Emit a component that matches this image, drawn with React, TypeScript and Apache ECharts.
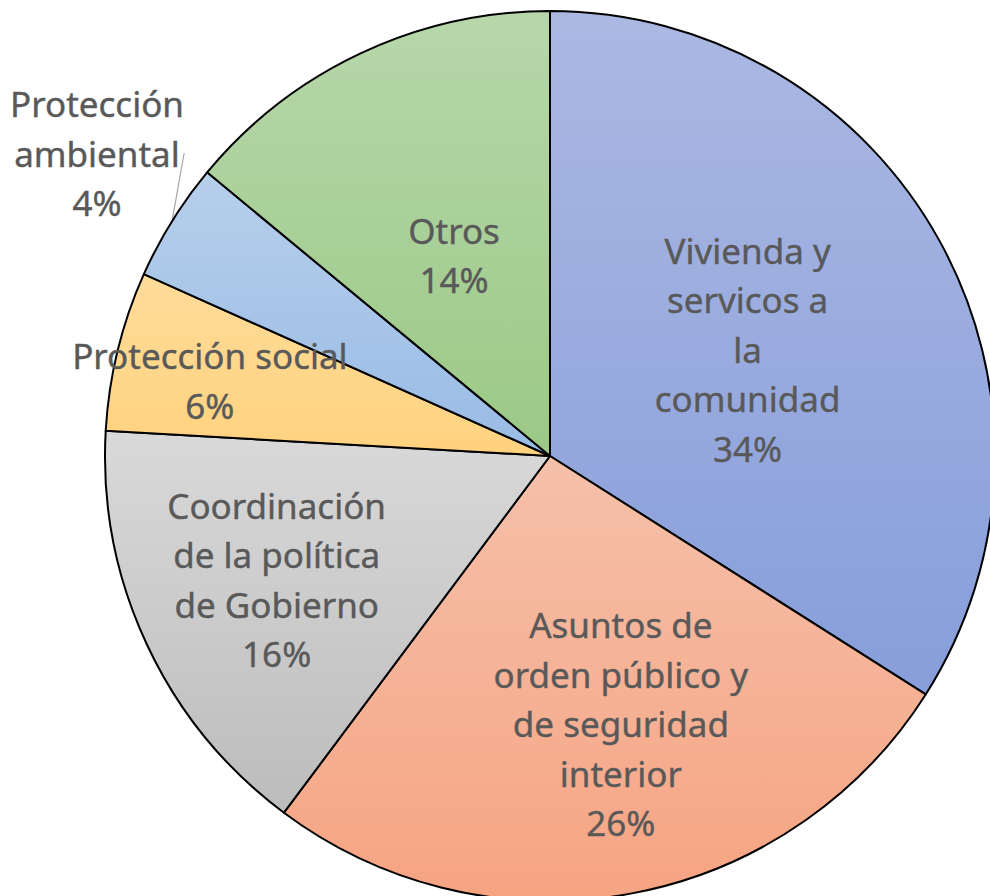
import React, { useEffect, useRef } from "react";
import * as echarts from "echarts";

const categories = [
  "Vivienda y\nservicos a\nla\ncomunidad",
  "Asuntos de\norden público y\nde seguridad\ninterior",
  "Coordinación\nde la política\nde Gobierno",
  "Protección social",
  "Protección\nambiental",
  "Otros",
];
const values = [34.0, 26.2, 15.7, 5.8, 4.3, 14.0];
const colorTop = ["#abb8e2", "#f5c0aa", "#d9d9d9", "#ffdc9a", "#b7cfeb", "#b7d7aa"];
const colorBottom = ["#879edb", "#f6a482", "#bcbcbc", "#ffd27e", "#98bbe5", "#9bc986"];
// label offsets from default inside position (dx, dy)
const labelShift: [number, number][] = [
  [0, 2],
  [30, 46],
  [-69, 28],
  [-121, -22],
  [0, 0],
  [0, 3],
];

export default function App() {
  const ref = useRef<HTMLDivElement>(null);
  useEffect(() => {
    document.body.style.margin = "0";
    const chart = echarts.init(ref.current!, null, { renderer: "svg" });
    const data = values.map((v, i) => {
      const item: any = {
        name: categories[i],
        value: v,
        itemStyle: {
          color: new echarts.graphic.LinearGradient(0, 0, 0, 1, [
            { offset: 0, color: colorTop[i] },
            { offset: 1, color: colorBottom[i] },
          ]),
        },
      };
      if (i === 4) {
        item.label = { position: "outside" };
        item.labelLine = {
          show: true,
          length: 40,
          length2: 0,
          lineStyle: { color: "#a6a6a6", width: 1.2 },
        };
      }
      return item;
    });
    chart.setOption({
      animation: false,
      backgroundColor: "#ffffff",
      series: [
        {
          type: "pie",
          center: [550, 456],
          radius: [0, 445],
          startAngle: 90,
          clockwise: true,
          percentPrecision: 0,
          avoidLabelOverlap: false,
          data,
          itemStyle: { borderColor: "#000000", borderWidth: 2 },
          label: {
            show: true,
            position: "inside",
            formatter: "{b}\n{d}%",
            fontFamily: "Noto Sans",
            fontSize: 35,
            lineHeight: 49.5,
            color: "#595959",
            align: "center",
            textBorderColor: "#595959",
            textBorderWidth: 0.4,
          },
          labelLine: { show: false },
          emphasis: { disabled: true },
          labelLayout: (params: any) => {
            if (params.dataIndex === 4) {
              return { x: 97, y: 153, align: "center", verticalAlign: "middle" };
            }
            const s = labelShift[params.dataIndex];
            return { dx: s[0], dy: s[1] };
          },
        },
      ],
    });
    return () => chart.dispose();
  }, []);
  return <div ref={ref} style={{ width: 990, height: 896 }} />;
}
